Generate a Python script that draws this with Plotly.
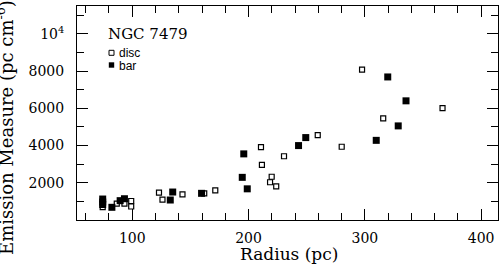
import plotly.graph_objects as go

# Disc (open squares)
disc_radius = [74.6, 86.7, 93.3, 99.1, 99.1, 123.0, 126.0, 143.2, 161.9, 171.4,
               210.7, 211.5, 219.9, 218.5, 223.8, 230.5, 259.5, 280.1, 297.6, 315.8, 366.8]
disc_em = [687, 875, 875, 1020, 725, 1466, 1100, 1380, 1433, 1594,
           3919, 2963, 2325, 2029, 1809, 3425, 4563, 3935, 8079, 5459, 6012]

# Bar (filled squares)
bar_radius = [74.6, 74.6, 74.6, 82.5, 89.6, 93.3, 134.8, 132.7, 159.6,
              195.9, 194.6, 198.9, 243.0, 249.2, 309.8, 319.7, 335.4, 328.7]
bar_em = [1127, 966, 832, 682, 1040, 1143, 1503, 1074, 1433,
          3553, 2292, 1675, 3999, 4429, 4280, 7687, 6404, 5057]

y_tickvals = [2000, 4000, 6000, 8000, 10000]
y_ticktext = ["2000", "4000", "6000", "8000", "10<sup>4</sup>"]
x_tickvals = [100, 200, 300, 400]

SERIF = "DejaVu Serif"
SANS = "Liberation Sans"

fig = go.Figure()
fig.add_trace(go.Scatter(
    x=disc_radius, y=disc_em, mode="markers", name="disc", showlegend=False,
    marker=dict(symbol="square-open", size=5, color="black", line=dict(width=1.2, color="black")),
))
fig.add_trace(go.Scatter(
    x=bar_radius, y=bar_em, mode="markers", name="bar", showlegend=False,
    marker=dict(symbol="square", size=7, color="black", line=dict(width=0)),
))

axis_common = dict(
    showgrid=False, zeroline=False, showline=True, linecolor="black", linewidth=1,
    ticks="inside", tickcolor="black", tickwidth=1, ticklen=11, mirror="allticks",
    tickfont=dict(family=SERIF, size=14, color="black"),
)
fig.update_xaxes(
    range=[52.5, 414.5], tickvals=x_tickvals, ticklabelstandoff=5,
    minor=dict(dtick=20, tick0=0, ticks="inside", ticklen=7, tickcolor="black", tickwidth=1),
    **axis_common,
)
fig.update_yaxes(
    range=[0, 11500], tickvals=y_tickvals, ticktext=y_ticktext, ticklabelstandoff=9,
    minor=dict(dtick=1000, tick0=0, ticks="inside", ticklen=7, tickcolor="black", tickwidth=1),
    **axis_common,
)

L, R, T, B = 77, 6, 6, 44
W, H = 504, 264
pw, ph = W - L - R, H - T - B

def px(xp):
    return (xp - L) / pw

def py(yp):
    return (H - B - yp) / ph

annotations = [
    dict(text="Radius (pc)", x=px(289), y=py(254), xref="paper", yref="paper",
         showarrow=False, xanchor="center", yanchor="middle",
         font=dict(family=SERIF, size=17, color="black")),
    dict(text="Emission Measure (pc cm<sup>-6</sup>)", x=px(5), y=py(128), xref="paper", yref="paper",
         showarrow=False, xanchor="center", yanchor="middle", textangle=-90,
         font=dict(family=SERIF, size=18, color="black")),
    dict(text="NGC 7479", x=px(106), y=py(34), xref="paper", yref="paper",
         showarrow=False, xanchor="left", yanchor="middle",
         font=dict(family=SERIF, size=15, color="black")),
    dict(text="disc", x=px(117), y=py(53), xref="paper", yref="paper",
         showarrow=False, xanchor="left", yanchor="middle",
         font=dict(family=SANS, size=12, color="black")),
    dict(text="bar", x=px(117), y=py(66), xref="paper", yref="paper",
         showarrow=False, xanchor="left", yanchor="middle",
         font=dict(family=SANS, size=12, color="black")),
]

shapes = [
    dict(type="rect", xref="paper", yref="paper", xsizemode="pixel", ysizemode="pixel",
         xanchor=px(111.5), yanchor=py(52.8), x0=-2.5, x1=2.5, y0=-2.5, y1=2.5,
         line=dict(color="black", width=1), fillcolor="white"),
    dict(type="rect", xref="paper", yref="paper", xsizemode="pixel", ysizemode="pixel",
         xanchor=px(111.5), yanchor=py(65), x0=-2.7, x1=2.7, y0=-2.7, y1=2.7,
         line=dict(color="black", width=0), fillcolor="black"),
]

fig.update_layout(
    width=W, height=H, margin=dict(l=L, r=R, t=T, b=B, pad=0),
    paper_bgcolor="white", plot_bgcolor="white",
    showlegend=False, annotations=annotations, shapes=shapes,
)

fig.write_html("out.html", config={"displayModeBar": False, "staticPlot": True},
               post_script="document.body.style.margin='0';document.body.style.overflow='hidden';")
